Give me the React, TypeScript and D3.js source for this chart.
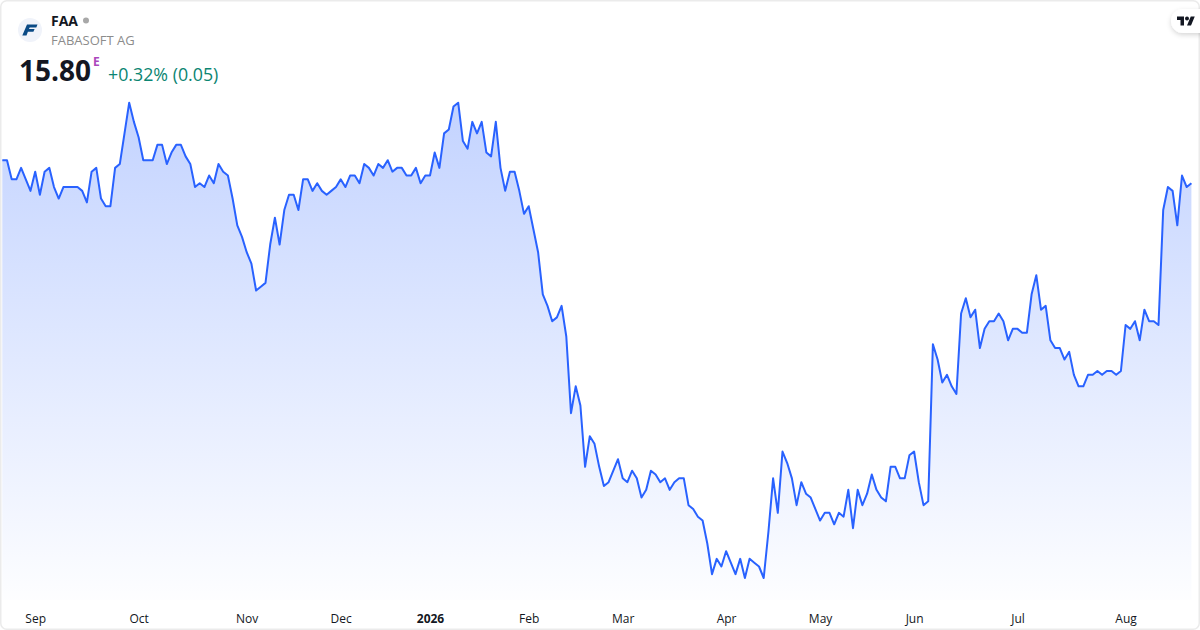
import React, { useEffect, useRef } from 'react'
import * as d3 from 'd3'

// closing prices
const prices = [
    16.10, 16.10, 15.85, 15.85, 16.00, 15.85, 15.70, 15.95, 15.65, 15.95, 16.00, 15.75, 15.60, 15.75, 15.75, 15.75,
    15.75, 15.70, 15.55, 15.95, 16.00, 15.60, 15.50, 15.50, 16.00, 16.05, 16.45, 16.85, 16.60, 16.40, 16.10, 16.10,
    16.10, 16.30, 16.30, 16.05, 16.20, 16.30, 16.30, 16.15, 16.05, 15.75, 15.80, 15.75, 15.90, 15.80, 16.05, 15.95,
    15.90, 15.60, 15.25, 15.10, 14.90, 14.75, 14.40, 14.45, 14.50, 15.00, 15.35, 15.00, 15.45, 15.65, 15.65, 15.45,
    15.85, 15.85, 15.70, 15.80, 15.70, 15.65, 15.70, 15.75, 15.85, 15.75, 15.90, 15.90, 15.80, 16.05, 16.00, 15.90,
    16.05, 16.00, 16.10, 15.95, 16.00, 16.00, 15.90, 15.90, 16.00, 15.80, 15.90, 15.90, 16.20, 16.00, 16.45, 16.50,
    16.80, 16.85, 16.35, 16.25, 16.60, 16.45, 16.60, 16.20, 16.15, 16.60, 16.00, 15.70, 15.95, 15.95, 15.70, 15.40,
    15.50, 15.20, 14.90, 14.35, 14.20, 14.00, 14.05, 14.20, 13.80, 12.80, 13.15, 12.90, 12.10, 12.50, 12.40, 12.10,
    11.85, 11.90, 12.05, 12.20, 11.95, 11.90, 12.05, 11.95, 11.70, 11.80, 12.05, 12.00, 11.90, 11.95, 11.80, 11.90,
    11.95, 11.95, 11.60, 11.55, 11.45, 11.40, 11.10, 10.70, 10.90, 10.80, 11.00, 10.85, 10.70, 10.90, 10.65, 10.90,
    10.85, 10.80, 10.65, 11.25, 11.95, 11.50, 12.30, 12.15, 11.95, 11.60, 11.90, 11.75, 11.70, 11.55, 11.40, 11.50,
    11.50, 11.35, 11.50, 11.45, 11.80, 11.30, 11.80, 11.60, 11.75, 12.00, 11.80, 11.70, 11.65, 12.10, 12.10, 11.95,
    11.95, 12.25, 12.30, 11.90, 11.60, 11.65, 13.70, 13.50, 13.20, 13.30, 13.15, 13.05, 14.10, 14.30, 14.05, 14.15,
    13.65, 13.90, 14.00, 14.00, 14.10, 14.00, 13.75, 13.90, 13.90, 13.85, 13.85, 14.35, 14.60, 14.15, 14.20, 13.75,
    13.65, 13.65, 13.50, 13.60, 13.30, 13.15, 13.15, 13.30, 13.30, 13.35, 13.30, 13.35, 13.35, 13.30, 13.35, 13.95,
    13.90, 14.00, 13.75, 14.15, 14.00, 14.00, 13.95, 15.45, 15.75, 15.70, 15.25, 15.90, 15.75, 15.80,
]

const tickLabels = ['Sep', 'Oct', 'Nov', 'Dec', '2026', 'Feb', 'Mar', 'Apr', 'May', 'Jun', 'Jul', 'Aug']
const tickIndexes = [7, 29, 52, 72, 91, 112, 132, 154, 174, 194, 216, 239]

const FONT = '"Open Sans", "Noto Sans", sans-serif'

const App: React.FC = () => {
    const chartRef = useRef<SVGSVGElement | null>(null)

    useEffect(() => {
        if (!chartRef.current) return
        const width = 1200
        const height = 630

        const svg = d3.select(chartRef.current)
        svg.selectAll('*').remove()
        svg.attr('width', width)
            .attr('height', height)
            .attr('viewBox', `0 0 ${width} ${height}`)
            .style('position', 'absolute')
            .style('left', 0)
            .style('top', 0)
            .style('background', '#fff')

        const x = d3.scaleLinear().domain([0, prices.length - 1]).range([2.3, 1191.4])
        const y = d3.scaleLinear().domain([10.65, 16.85]).range([578, 102.7])

        const defs = svg.append('defs')
        const grad = defs.append('linearGradient')
            .attr('id', 'areaFill')
            .attr('gradientUnits', 'userSpaceOnUse')
            .attr('x1', 0).attr('x2', 0)
            .attr('y1', 102).attr('y2', 600)
        grad.append('stop').attr('offset', 0).attr('stop-color', '#2962ff').attr('stop-opacity', 0.28)
        grad.append('stop').attr('offset', 1).attr('stop-color', '#2962ff').attr('stop-opacity', 0.01)

        const shadow = defs.append('filter').attr('id', 'pillShadow')
            .attr('x', '-30%').attr('y', '-30%').attr('width', '160%').attr('height', '180%')
        shadow.append('feDropShadow')
            .attr('dx', 0).attr('dy', 2).attr('stdDeviation', 2.5)
            .attr('flood-color', '#000').attr('flood-opacity', 0.16)

        // area + line
        const area = d3.area<number>().x((_, i) => x(i)).y0(600).y1(d => y(d))
        const line = d3.line<number>().x((_, i) => x(i)).y(d => y(d))

        svg.append('path').datum(prices).attr('d', area).attr('fill', 'url(#areaFill)')
        svg.append('path').datum(prices).attr('d', line)
            .attr('fill', 'none')
            .attr('stroke', '#2962ff')
            .attr('stroke-width', 2)
            .attr('stroke-linejoin', 'round')

        // month axis
        const axis = d3.axisBottom(x)
            .tickValues(tickIndexes)
            .tickSize(0)
            .tickFormat((_, i) => tickLabels[i])
        svg.append('g')
            .attr('transform', 'translate(0,611)')
            .call(axis)
            .call(g => g.select('.domain').remove())
            .call(g => g.selectAll('.tick text')
                .attr('fill', '#131722')
                .attr('font-family', FONT)
                .attr('font-size', 12)
                .attr('font-weight', (_, i) => tickLabels[i] === '2026' ? 700 : 400))

        // card border
        svg.append('rect')
            .attr('x', 0.75).attr('y', 0.75)
            .attr('width', width - 1.5).attr('height', height - 1.5)
            .attr('rx', 6)
            .attr('fill', 'none')
            .attr('stroke', '#ebebeb')
            .attr('stroke-width', 1.5)

        // symbol logo
        svg.append('circle').attr('cx', 30).attr('cy', 30).attr('r', 12).attr('fill', '#f0f3fa')
        svg.append('path')
            .attr('d', 'M27 24.5h10.5l-1.2 2.9h-6.6l-.7 1.7h5.6l-1.2 2.7h-5.5l-1.4 3.7h-4.2z')
            .attr('fill', '#0a4a85')

        // header text
        const header = svg.append('g').attr('font-family', FONT)
        header.append('text').attr('x', 51).attr('y', 26)
            .attr('font-size', 14).attr('font-weight', 700).attr('fill', '#131722').text('FAA')
        header.append('circle').attr('cx', 86).attr('cy', 20.5).attr('r', 3).attr('fill', '#a8a8a8')
        header.append('text').attr('x', 51).attr('y', 45)
            .attr('font-size', 13).attr('fill', '#8c8c8c').text('FABASOFT AG')
        header.append('text').attr('x', 19).attr('y', 81)
            .attr('font-size', 28).attr('font-weight', 700).attr('fill', '#131722').text('15.80')
        header.append('text').attr('x', 93).attr('y', 66)
            .attr('font-size', 12).attr('font-weight', 700).attr('fill', '#ab47bc').text('E')
        header.append('text').attr('x', 108).attr('y', 81)
            .attr('font-size', 17.8).attr('fill', '#0b8572').text('+0.32% (0.05)')

        // tradingview badge
        svg.append('rect')
            .attr('x', 1171).attr('y', 9)
            .attr('width', 50).attr('height', 24)
            .attr('rx', 12)
            .attr('fill', '#fff')
            .attr('filter', 'url(#pillShadow)')
        const mark = svg.append('g').attr('transform', 'translate(1177,14.5) scale(0.5)').attr('fill', '#131722')
        mark.append('path').attr('d', 'M14 22H7V11H0V4h14v18zM28 22h-8l7.5-18h8L28 22z')
        mark.append('circle').attr('cx', 20).attr('cy', 8).attr('r', 4)
    }, [])

    return <svg ref={chartRef}></svg>
}

export default App
